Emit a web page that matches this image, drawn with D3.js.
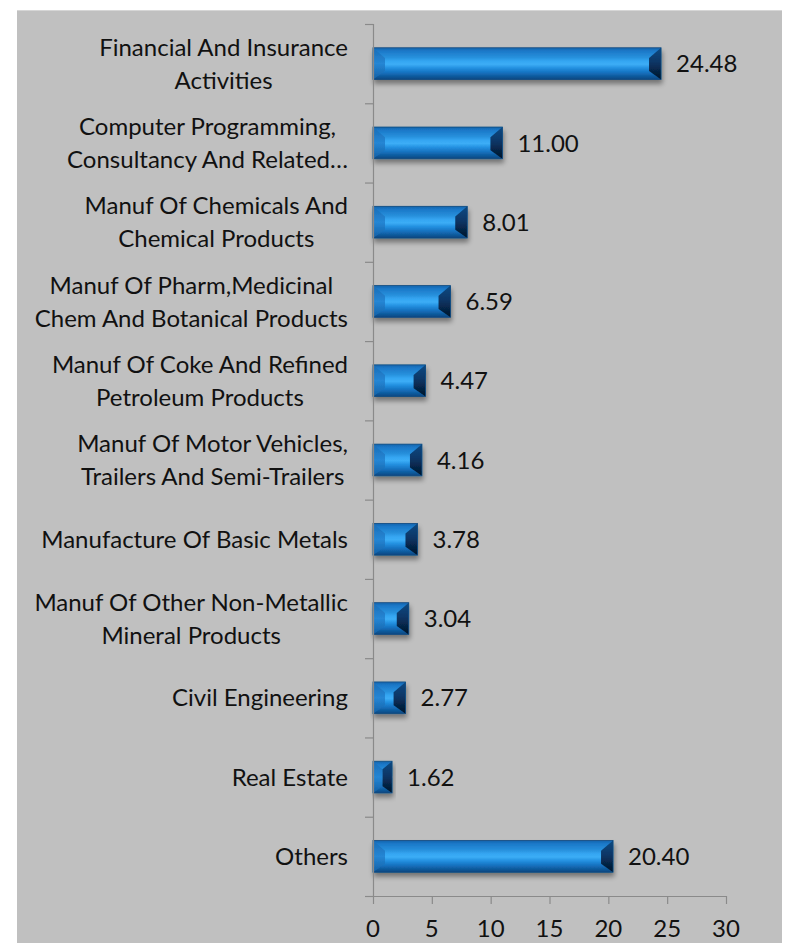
<!DOCTYPE html>
<html>
<head>
<meta charset="utf-8">
<script src="https://cdn.jsdelivr.net/npm/d3@7"></script>
<style>
  html, body { margin: 0; padding: 0; background: #ffffff; }
  svg { display: block; }
</style>
</head>
<body>
<svg id="chart" width="800" height="943"></svg>
<script>
// Sector shares (%), top to bottom
const categories = [
  "Financial And Insurance\nActivities",
  "Computer Programming,\nConsultancy And Related…",
  "Manuf Of Chemicals And\nChemical Products",
  "Manuf Of Pharm,Medicinal\nChem And Botanical Products",
  "Manuf Of Coke And Refined\nPetroleum Products",
  "Manuf Of Motor Vehicles,\nTrailers And Semi-Trailers",
  "Manufacture Of Basic Metals",
  "Manuf Of Other Non-Metallic\nMineral Products",
  "Civil Engineering",
  "Real Estate",
  "Others"
];
const values = [24.48, 11.00, 8.01, 6.59, 4.47, 4.16, 3.78, 3.04, 2.77, 1.62, 20.40];
const xTicks = [0, 5, 10, 15, 20, 25, 30];

const svg = d3.select("#chart");
const font = "Lato, 'Open Sans', sans-serif";
const fontSize = 24;

// panel background
svg.append("rect").attr("x", 17).attr("y", 10).attr("width", 765).attr("height", 940)
  .attr("fill", "#c0c0c0");
svg.append("line").attr("x1", 17).attr("x2", 782).attr("y1", 10.5).attr("y2", 10.5)
  .attr("stroke", "#d6d6d6");

const x = d3.scaleLinear().domain([0, 30]).range([373, 726]);
const y = d3.scaleBand().domain(d3.range(categories.length)).range([24, 896])
  .paddingInner(0.6).paddingOuter(0.3);

const defs = svg.append("defs");
function vGrad(id, stops) {
  const g = defs.append("linearGradient").attr("id", id)
    .attr("x1", 0).attr("y1", 0).attr("x2", 0).attr("y2", 1);
  stops.forEach(([o, c]) => g.append("stop").attr("offset", o).attr("stop-color", c));
}
vGrad("face", [[0, "#1565ad"], [0.1, "#1b78c8"], [0.3, "#2790dc"], [0.42, "#35a6f2"],
  [0.52, "#3cadf6"], [0.64, "#2390e0"], [0.78, "#1672c0"], [0.9, "#0f5a9c"], [1, "#0a4680"]]);
vGrad("leftEnd", [[0, "#1a6cb6"], [0.5, "#2586d4"], [1, "#1360a6"]]);
vGrad("rightEnd", [[0, "#0e4a82"], [0.45, "#0a3666"], [1, "#021428"]]);

const shadow = defs.append("filter").attr("id", "shadow")
  .attr("x", "-10%").attr("y", "-30%").attr("width", "130%").attr("height", "190%");
shadow.append("feGaussianBlur").attr("in", "SourceAlpha").attr("stdDeviation", 2.5).attr("result", "b");
shadow.append("feOffset").attr("in", "b").attr("dx", 1).attr("dy", 4).attr("result", "o");
shadow.append("feComponentTransfer").attr("in", "o").attr("result", "s")
  .append("feFuncA").attr("type", "linear").attr("slope", 0.4);
const merge = shadow.append("feMerge");
merge.append("feMergeNode").attr("in", "s");
merge.append("feMergeNode").attr("in", "SourceGraphic");

// bevelled bars: gradient face with trapezoid end caps
const bars = svg.append("g").selectAll("g.bar").data(values).join("g")
  .attr("class", "bar").attr("filter", "url(#shadow)");
bars.each(function(v, i) {
  const g = d3.select(this);
  const x0 = x(0), x1 = x(v), y0 = y(i), h = y.bandwidth(), y1 = y0 + h;
  const b = Math.min(12, (x1 - x0) / 2);
  const top = b * 0.85, bot = b * 0.7;
  const poly = (pts, fill) => g.append("polygon")
    .attr("points", pts.map(p => p.join(",")).join(" ")).attr("fill", fill);
  g.append("rect").attr("x", x0).attr("y", y0).attr("width", x1 - x0).attr("height", h)
    .attr("fill", "url(#face)");
  poly([[x0, y0], [x0 + b, y0 + top], [x0 + b, y1 - bot], [x0, y1]], "url(#leftEnd)");
  poly([[x1, y0], [x1 - b, y0 + top], [x1 - b, y1 - bot], [x1, y1]], "url(#rightEnd)");
  g.append("rect").attr("x", x0).attr("y", y0).attr("width", x1 - x0).attr("height", h)
    .attr("fill", "none").attr("stroke", "#0b4a80").attr("stroke-width", 0.8);
});

// value labels
svg.append("g").selectAll("text").data(values).join("text")
  .attr("x", d => x(d) + 15)
  .attr("y", (d, i) => y(i) + y.bandwidth() / 2)
  .attr("dy", "0.36em")
  .attr("font-family", font).attr("font-size", fontSize).attr("fill", "#111")
  .text(d => d.toFixed(2));

// category axis
const yBounds = d3.range(categories.length + 1).map(k => 24 + k * (872 / categories.length));
svg.append("line").attr("x1", 373.5).attr("x2", 373.5).attr("y1", 24).attr("y2", 896)
  .attr("stroke", "#8a8a8a").attr("stroke-width", 1.2);
svg.append("g").selectAll("line").data(yBounds).join("line")
  .attr("x1", 365).attr("x2", 373.5).attr("y1", d => d + 0.5).attr("y2", d => d + 0.5)
  .attr("stroke", "#8a8a8a").attr("stroke-width", 1.2);

const labels = svg.append("g").selectAll("text").data(categories).join("text")
  .attr("font-family", font).attr("font-size", fontSize).attr("fill", "#111")
  .attr("text-anchor", "middle");
labels.each(function(c, i) {
  const lines = c.split("\n");
  const t = d3.select(this);
  const cy = y(i) + y.bandwidth() / 2;
  const lh = 33;
  const right = 348;
  const widths = [];
  lines.forEach((ln, k) => {
    const ts = t.append("tspan").text(ln)
      .attr("y", cy + (k - (lines.length - 1) / 2) * lh).attr("dy", "0.36em");
    widths.push(ts.node().getComputedTextLength());
  });
  const maxW = d3.max(widths);
  t.selectAll("tspan").attr("x", right - maxW / 2);
});

// value axis
svg.append("line").attr("x1", 365).attr("x2", 726).attr("y1", 896.5).attr("y2", 896.5)
  .attr("stroke", "#8a8a8a").attr("stroke-width", 1.2);
const xa = svg.append("g").selectAll("g").data(xTicks).join("g");
xa.append("line").attr("x1", d => x(d) + 0.5).attr("x2", d => x(d) + 0.5)
  .attr("y1", 896).attr("y2", 904).attr("stroke", "#8a8a8a").attr("stroke-width", 1.2);
xa.append("text").attr("x", d => x(d)).attr("y", 937)
  .attr("text-anchor", "middle").attr("font-family", font).attr("font-size", fontSize)
  .attr("fill", "#111").text(d => d);
</script>
</body>
</html>
